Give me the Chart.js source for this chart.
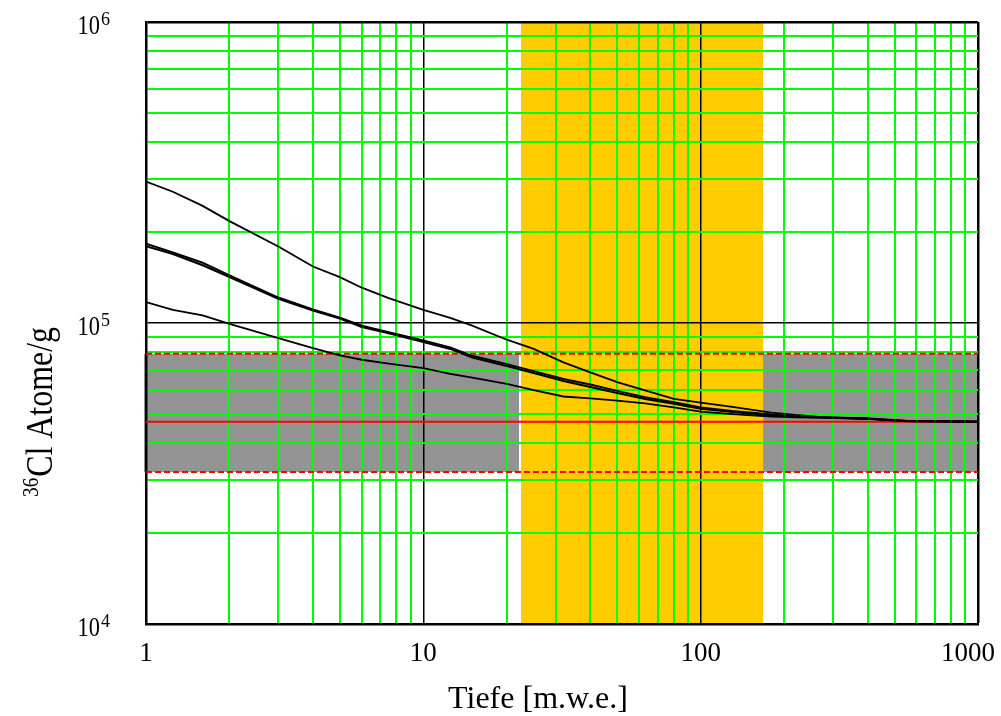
<!DOCTYPE html>
<html>
<head>
<meta charset="utf-8">
<title>36Cl Tiefenprofil</title>
<script src="https://cdn.jsdelivr.net/npm/chart.js@4.4.1/dist/chart.umd.min.js"></script>
<style>
  html, body { margin: 0; padding: 0; background: #fff; }
  canvas { display: block; }
</style>
</head>
<body>
<canvas id="depthChart" width="1001" height="716"></canvas>
<script>
// depth in m.w.e. (shared x values of all curves)
const depth = [1, 1.25, 1.6, 2, 3, 4, 5, 6, 7.5, 10, 12.5, 15, 20, 25, 32, 40, 50, 63, 80, 100, 130, 180, 220, 300, 400, 550, 1000];

// 36Cl atoms per gram
const upperCurve = [295000, 273000, 245000, 218000, 179500, 154000, 142000, 131000, 121000, 110500, 104000, 98000, 88000, 82000, 74000, 68500, 63600, 59700, 56000, 54400, 52600, 50400, 49500, 48300, 48000, 47200, 47000];
const middleCurveA = [183500, 171500, 158500, 144000, 121500, 111000, 104200, 98000, 93200, 87500, 83000, 77800, 73000, 69200, 65200, 62500, 59500, 56700, 54500, 52400, 51000, 49700, 48900, 48500, 48200, 47300, 47000];
const middleCurveB = [180000, 169500, 155500, 142000, 120300, 110000, 103400, 97000, 92400, 86500, 82000, 76800, 72000, 68200, 64200, 61300, 58500, 55900, 53900, 51900, 50600, 49400, 48800, 48400, 48100, 47200, 47000];
const lowerCurve = [117300, 110600, 106000, 99300, 89100, 82500, 78000, 75500, 73300, 70800, 67800, 65800, 62800, 59800, 57000, 56200, 55200, 54100, 52400, 50800, 49800, 48900, 48600, 48400, 48100, 47200, 47000];

// measured level and its range
const meanLevel = 47000;
const rangeLow = 32000;
const rangeHigh = 79000;

// depth window of the sample site (orange band)
const siteDepth = [22.5, 168];

// axes
const xRange = [1, 1000];
const yRange = [1e4, 1e6];
const xTickValues = [1, 10, 100, 1000];
const xTickLabels = ['1', '10', '100', '1000'];
const yTickValues = [1e4, 1e5, 1e6];
const yTickExponents = ['4', '5', '6'];

const serif = '"Liberation Serif", "Times New Roman", serif';
const green = '#00ff00';

const decadeGrid = (min, max) => {
    const values = [];
    for (let d = min; d < max; d *= 10) {
        for (let k = 1; k <= 9; k++) {
            values.push(k * d);
        }
    }
    values.push(max);
    return values;
};

const toPoints = (ys) => depth.map((x, i) => ({ x, y: ys[i] }));
const flat = (y) => [{ x: xRange[0], y }, { x: xRange[1], y }];

const bandsPlugin = {
    id: 'bands',
    beforeDraw(chart) {
        const { ctx, chartArea, scales } = chart;
        const x = scales.x;
        const y = scales.y;
        ctx.save();
        // grey range band
        const yTop = y.getPixelForValue(rangeHigh);
        const yBottom = y.getPixelForValue(rangeLow);
        ctx.fillStyle = '#939393';
        ctx.fillRect(chartArea.left - 2, yTop, chartArea.right - chartArea.left + 2, yBottom - yTop);
        // white seam + orange site band
        const x0 = x.getPixelForValue(siteDepth[0]);
        const x1 = x.getPixelForValue(siteDepth[1]);
        ctx.fillStyle = '#ffffff';
        ctx.fillRect(x0 - 2, yTop, 2, yBottom - yTop);
        ctx.fillStyle = '#ffcc00';
        ctx.fillRect(x0, chartArea.top, x1 - x0, chartArea.bottom - chartArea.top);
        ctx.restore();
    },
};

const drawScaled = (ctx, text, x, y, font, align, sx) => {
    ctx.save();
    ctx.font = font;
    ctx.translate(x, y);
    ctx.scale(sx, 1);
    ctx.textAlign = align;
    ctx.fillText(text, 0, 0);
    ctx.restore();
};

const labelsPlugin = {
    id: 'labels',
    afterDraw(chart) {
        const { ctx, scales } = chart;
        ctx.save();
        ctx.fillStyle = '#000';
        ctx.textBaseline = 'alphabetic';

        // x tick labels
        ctx.font = '27px ' + serif;
        xTickValues.forEach((v, i) => {
            let px = scales.x.getPixelForValue(v);
            const w = ctx.measureText(xTickLabels[i]).width;
            if (px + w / 2 > chart.width - 6) {
                px = chart.width - 6 - w / 2;
            }
            ctx.textAlign = 'center';
            ctx.fillText(xTickLabels[i], px, 661);
        });

        // y tick labels 10^n
        yTickValues.forEach((v, i) => {
            const py = scales.y.getPixelForValue(v);
            drawScaled(ctx, '10', 100, py + 12, '28px ' + serif, 'right', 0.8);
            drawScaled(ctx, yTickExponents[i], 101, py + 3, '18px ' + serif, 'left', 1);
        });

        // x title
        ctx.font = '32px ' + serif;
        ctx.textAlign = 'center';
        ctx.fillText('Tiefe [m.w.e.]', 538, 708);

        // y title with superscript mass number
        ctx.translate(52, 497);
        ctx.rotate(-Math.PI / 2);
        ctx.scale(0.84, 1);
        ctx.textAlign = 'left';
        ctx.font = '23px ' + serif;
        ctx.fillText('36', 0, -14);
        const w = ctx.measureText('36').width;
        ctx.font = '38px ' + serif;
        ctx.fillText('Cl Atome/g', w + 1, 0);
        ctx.restore();
    },
};

const curve = (label, ys, width) => ({
    label,
    data: toPoints(ys),
    borderColor: '#000000',
    borderWidth: width,
    pointRadius: 0,
    tension: 0,
    fill: false,
});

const redLine = (label, y, dash) => ({
    label,
    data: flat(y),
    borderColor: '#ff0000',
    borderWidth: 2,
    borderDash: dash,
    pointRadius: 0,
    fill: false,
});

const xGrid = decadeGrid(xRange[0], xRange[1]);
const yGrid = decadeGrid(yRange[0], yRange[1]);

const gridColor = (edges, inner) => (ctx) => {
    const v = ctx.tick ? ctx.tick.value : null;
    if (edges.includes(v) || inner.includes(v)) {
        return '#000000';
    }
    return green;
};
const gridWidth = (edges, inner) => (ctx) => {
    const v = ctx.tick ? ctx.tick.value : null;
    if (edges.includes(v)) return 2.5;
    if (inner.includes(v)) return 1.5;
    return 2;
};

new Chart(document.getElementById('depthChart'), {
    type: 'line',
    data: {
        datasets: [
            curve('oben', upperCurve, 1.8),
            curve('mitte a', middleCurveA, 2),
            curve('mitte b', middleCurveB, 2),
            curve('unten', lowerCurve, 1.8),
            redLine('Mittelwert', meanLevel, []),
            redLine('obere Grenze', rangeHigh, [6, 3]),
            redLine('untere Grenze', rangeLow, [6, 3]),
        ],
    },
    options: {
        responsive: false,
        animation: false,
        devicePixelRatio: 1,
        layout: { padding: { top: 22, right: 23, left: 0, bottom: 0 } },
        plugins: {
            legend: { display: false },
            tooltip: { enabled: false },
            title: { display: false },
        },
        scales: {
            x: {
                type: 'logarithmic',
                min: xRange[0],
                max: xRange[1],
                afterBuildTicks: (scale) => {
                    scale.ticks = xGrid.map((value) => ({ value }));
                },
                afterFit: (scale) => {
                    scale.height = 92;
                },
                ticks: { display: false },
                grid: {
                    drawTicks: false,
                    color: gridColor([1000], [10, 100]),
                    lineWidth: gridWidth([1000], [10, 100]),
                },
                border: { color: '#000000', width: 2.5 },
            },
            y: {
                type: 'logarithmic',
                min: yRange[0],
                max: yRange[1],
                afterBuildTicks: (scale) => {
                    scale.ticks = yGrid.map((value) => ({ value }));
                },
                afterFit: (scale) => {
                    scale.width = 146;
                },
                ticks: { display: false },
                grid: {
                    drawTicks: false,
                    color: gridColor([1e6], [1e5]),
                    lineWidth: gridWidth([1e6], [1e5]),
                },
                border: { color: '#000000', width: 2.5 },
            },
        },
    },
    plugins: [bandsPlugin, labelsPlugin],
});
</script>
</body>
</html>
